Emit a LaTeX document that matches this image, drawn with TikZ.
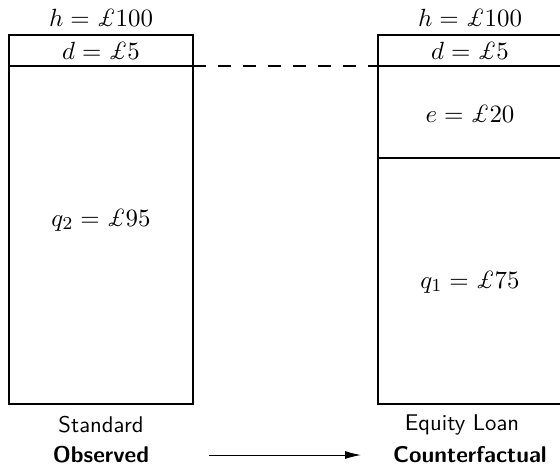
\documentclass[tikz,border=0pt]{standalone}
\usetikzlibrary{arrows.meta}
\usetikzlibrary{positioning}

\begin{document}
\begin{tikzpicture}[
        x=0.44pt, y=-0.44pt,
        every node/.style={inner sep=0pt, align=center},
        box/.style={draw, thick},
        split/.style={thick},
        val/.style={font=\fontsize{10.8}{13}\selectfont},
        caption/.style={font=\sffamily},
        arrow/.style={-{Latex[length=7pt, width=3.5pt]}}
    ]
    \clip (0,0) rectangle (560,465);

    % Observed side
    \draw[box] (9,35) rectangle (193,404);
    \coordinate (dL) at (9,66);
    \coordinate (dLend) at (193,66);
    \draw[split] (dL) -- (dLend);
    \node[val] (hL) at (101,18) {$h = \pounds 100$};
    \node[val] (dLtxt) at (101,51) {$d = \pounds 5$};
    \node[val] (q2) at (101,220) {$q_2 = \pounds 95$};
    \node[caption] (std) at (101,425) {Standard};
    \node[caption, font=\sffamily\bfseries] (obs) at (101,455) {Observed};

    % Counterfactual side
    \draw[box] (378,35) rectangle (562,404);
    \coordinate (dR) at (378,66);
    \coordinate (dRend) at (562,66);
    \coordinate (eR) at (378,158);
    \coordinate (eRend) at (562,158);
    \draw[split] (dR) -- (dRend);
    \draw[split] (eR) -- (eRend);
    \node[val] (hR) at (470,18) {$h = \pounds 100$};
    \node[val] (dRtxt) at (470,51) {$d = \pounds 5$};
    \node[val] (e) at (470,114) {$e = \pounds 20$};
    \node[val] (q1) at (470,282) {$q_1 = \pounds 75$};
    \node[caption] (eql) at (462,425) {Equity Loan};
    \node[caption, font=\sffamily\bfseries] (cf) at (470,455) {Counterfactual};

    % Link between the two
    \coordinate (dashend) at (427,66);
    \draw[thick, dash pattern=on 5.7pt off 5.3pt] (dLend) -- (dashend);
    \draw[arrow, shorten <=26pt, shorten >=14pt] (obs.east) -- (cf.west);

\end{tikzpicture}
\end{document}
